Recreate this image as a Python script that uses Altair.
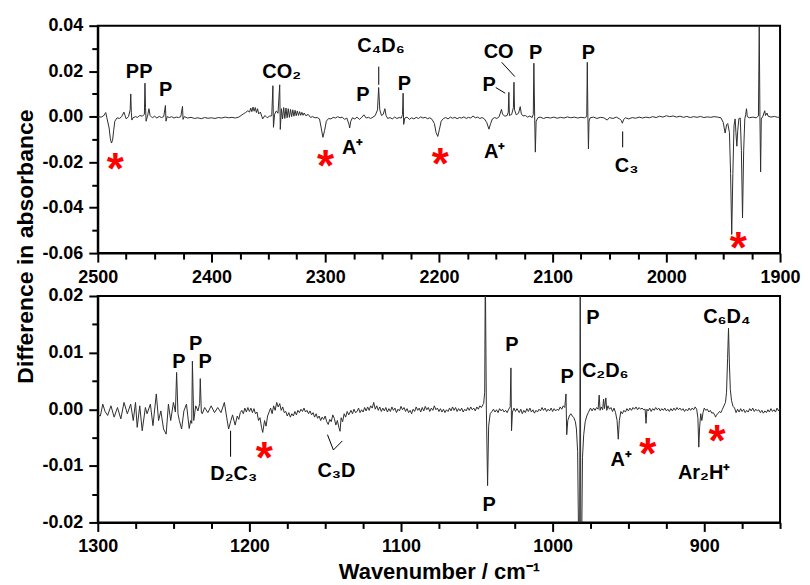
import altair as alt
import pandas as pd

FONT = "Liberation Sans"

# ---------------- data: upper panel (2500-1900 cm-1) ----------------
top_spectrum = [
    (2500, 0.0000), (2497, -0.0002), (2495, 0.0003), (2493, 0.0018), (2492, -0.0005),
    (2490, -0.0050), (2489, -0.0095), (2488, -0.0116), (2487, -0.0105), (2486, -0.0060),
    (2485, -0.0020), (2483, -0.0005), (2481, -0.0008), (2479, 0.0000), (2477, 0.0020),
    (2476, 0.0005), (2475, -0.0010), (2473, 0.0000), (2471.5, 0.0030), (2471, 0.0100),
    (2470.5, 0.0020), (2470, -0.0015), (2469, -0.0005), (2467, 0.0000), (2465, -0.0003),
    (2463, 0.0005), (2461, 0.0002), (2459, 0.0010), (2458.5, 0.0147), (2458, 0.0040),
    (2457.5, -0.0020), (2456, 0.0008), (2455, 0.0035), (2454, 0.0005), (2452, -0.0005),
    (2450, 0.0002), (2448, -0.0006), (2446, 0.0001), (2444, -0.0004), (2442, 0.0000),
    (2440.5, 0.0049), (2440, -0.0020), (2439, 0.0000), (2437, -0.0004), (2435, 0.0000),
    (2433, -0.0006), (2431, -0.0002), (2429, -0.0004), (2427, 0.0000), (2425.5, 0.0045),
    (2425, -0.0012), (2424, 0.0000), (2421, -0.0006), (2418, -0.0003), (2415, -0.0008),
    (2412, -0.0005), (2409, -0.0009), (2406, -0.0004), (2403, -0.0007), (2400, -0.0005),
    (2397, -0.0008), (2394, -0.0004), (2391, -0.0006), (2388, -0.0002), (2385, -0.0005),
    (2382, -0.0003), (2379, -0.0006), (2376, -0.0002), (2374, 0.0005), (2372, 0.0012),
    (2370, 0.0018), (2368, 0.0026), (2366.5, 0.0020), (2365.5, 0.0038), (2364.5, 0.0022),
    (2363.5, 0.0042), (2362.5, 0.0024), (2361.5, 0.0040), (2360.5, 0.0018), (2359.5, 0.0035),
    (2358.5, 0.0012), (2357, 0.0020), (2355, -0.0010), (2353, 0.0005), (2351, -0.0005),
    (2349, 0.0002), (2347, 0.0004), (2346, 0.0136), (2345.5, -0.0047), (2344.5, 0.0010),
    (2343, 0.0025), (2341.5, 0.0015), (2340, 0.0140), (2339.5, -0.0056), (2338.5, 0.0035),
    (2337.5, -0.0010), (2336.5, 0.0040), (2335.5, -0.0008), (2334.5, 0.0038), (2333.5, -0.0005),
    (2332.5, 0.0035), (2331.5, -0.0003), (2330.5, 0.0032), (2329.5, 0.0000), (2328.5, 0.0030),
    (2327.5, 0.0002), (2326.5, 0.0028), (2325.5, 0.0004), (2324.5, 0.0025), (2323.5, 0.0005),
    (2322.5, 0.0022), (2321.5, 0.0006), (2320.5, 0.0019), (2319.5, 0.0006), (2318.5, 0.0016),
    (2317, 0.0004), (2315, 0.0010), (2313, -0.0003), (2311, 0.0000), (2309, -0.0005),
    (2307, -0.0004), (2305, -0.0010), (2303.5, -0.0050), (2302, -0.0091), (2300.5, -0.0060),
    (2299, -0.0020), (2297, -0.0008), (2295, -0.0010), (2293, -0.0003), (2291, -0.0006),
    (2289, 0.0000), (2287, -0.0005), (2285, -0.0002), (2283, -0.0012), (2281, -0.0006),
    (2279, -0.0035), (2278.5, -0.0050), (2277.5, -0.0020), (2276, -0.0005), (2274, -0.0010),
    (2272, -0.0002), (2270, -0.0012), (2268, -0.0004), (2266, 0.0008), (2264, -0.0006),
    (2262, -0.0003), (2260, -0.0008), (2258, -0.0002), (2256, 0.0005), (2254, 0.0030),
    (2253, 0.0128), (2252, 0.0030), (2250.5, 0.0005), (2249, 0.0010), (2247.5, 0.0035),
    (2246.5, 0.0005), (2245, -0.0008), (2243, -0.0004), (2241, -0.0010), (2239, -0.0002),
    (2237, -0.0008), (2235, -0.0004), (2233, -0.0006), (2232, 0.0010), (2231.5, 0.0103),
    (2231, -0.0034), (2230, -0.0006), (2228, -0.0002), (2226, -0.0012), (2224, -0.0005),
    (2222, -0.0010), (2220, -0.0003), (2218, -0.0008), (2216, -0.0001), (2214, -0.0006),
    (2212, -0.0003), (2210, -0.0009), (2208, -0.0005), (2206, -0.0012), (2204, -0.0030),
    (2202.5, -0.0070), (2201, -0.0087), (2199.5, -0.0055), (2198, -0.0020), (2196, -0.0008),
    (2194, -0.0004), (2192, -0.0010), (2190, -0.0002), (2188, -0.0007), (2186, -0.0003),
    (2184, -0.0009), (2182, -0.0004), (2180, -0.0006), (2178, -0.0001), (2176, -0.0008),
    (2174, -0.0003), (2172, -0.0006), (2170, 0.0003), (2168, -0.0005), (2166, -0.0002),
    (2164, -0.0008), (2162, -0.0004), (2160, -0.0010), (2158, -0.0025), (2156, -0.0055),
    (2154.5, -0.0030), (2153, -0.0010), (2151, -0.0004), (2149, -0.0008), (2147, 0.0000),
    (2145, 0.0032), (2144, 0.0010), (2142, 0.0002), (2140, 0.0005), (2139, 0.0020),
    (2138.5, 0.0107), (2138, 0.0005), (2136, 0.0010), (2134.5, 0.0040), (2134, 0.0151),
    (2133.5, 0.0030), (2132, 0.0008), (2130, 0.0015), (2128.5, 0.0044), (2127.5, 0.0012),
    (2126, 0.0003), (2124, 0.0005), (2122, -0.0002), (2120, 0.0003), (2118, -0.0004),
    (2117, 0.0010), (2116.5, 0.0235), (2115.8, 0.0000), (2115.2, -0.0156), (2114.5, -0.0020),
    (2113, -0.0005), (2111, -0.0002), (2108, -0.0008), (2105, -0.0003), (2102, -0.0006),
    (2099, -0.0002), (2096, -0.0007), (2093, -0.0003), (2090, -0.0006), (2087, -0.0001),
    (2084, -0.0005), (2081, -0.0002), (2078, -0.0006), (2075, -0.0003), (2072, -0.0005),
    (2070, 0.0000), (2069.5, 0.0239), (2069, 0.0000), (2068.5, -0.0142), (2068, -0.0020),
    (2067, -0.0005), (2064, -0.0002), (2061, -0.0008), (2058, -0.0003), (2055, -0.0005),
    (2052, -0.0015), (2050, -0.0004), (2047, -0.0008), (2044, -0.0002), (2041, -0.0010),
    (2039.5, -0.0018), (2038.7, -0.0029), (2037.5, -0.0012), (2036, -0.0005), (2033, -0.0010),
    (2030, -0.0004), (2027, -0.0007), (2024, -0.0002), (2021, -0.0006), (2018, -0.0002),
    (2015, -0.0005), (2012, 0.0000), (2009, -0.0004), (2006, 0.0002), (2003, -0.0002),
    (2000, 0.0004), (1997, 0.0000), (1994, 0.0003), (1991, -0.0002), (1988, 0.0002),
    (1985, -0.0003), (1982, 0.0001), (1979, -0.0004), (1976, 0.0000), (1973, -0.0003),
    (1970, 0.0001), (1967, -0.0004), (1964, -0.0001), (1961, -0.0003), (1958, 0.0000),
    (1955, -0.0002), (1952, -0.0005), (1950, -0.0025), (1948.3, -0.0072), (1947, -0.0035),
    (1946, -0.0030), (1944.5, -0.0070), (1943.5, -0.0250), (1942.5, -0.0518), (1941.5, -0.0250),
    (1940.5, -0.0040), (1939.5, -0.0010), (1938.8, -0.0070), (1938, -0.0130), (1937.2, -0.0060),
    (1936.2, -0.0008), (1935, -0.0006), (1934, -0.0150), (1933, -0.0445), (1932, -0.0150),
    (1931, -0.0010), (1930.2, 0.0010), (1929.5, 0.0035), (1928.8, 0.0000), (1927, -0.0005),
    (1924, -0.0002), (1921, -0.0005), (1919, 0.0003), (1918.3, 0.0400), (1917.7, 0.0000),
    (1917.1, -0.0243), (1916.5, -0.0010), (1915, 0.0003), (1913.5, 0.0026), (1912.8, 0.0005),
    (1911.5, 0.0016), (1910.5, 0.0002), (1908, -0.0002), (1905, 0.0001), (1902, -0.0003),
    (1900, -0.0001),
]

top_labels = [
    ("PP", 2463.6, 0.0172), ("P", 2440.2, 0.0089), ("CO₂", 2338.3, 0.0168),
    ("C₄D₆", 2250.9, 0.0283), ("P", 2266.8, 0.0071), ("P", 2230.3, 0.0118),
    ("A⁺", 2275.9, -0.0164), ("A⁺", 2151.0, -0.0182), ("P", 2155.9, 0.0111),
    ("CO", 2147.5, 0.0260), ("P", 2115.0, 0.0254), ("P", 2068.6, 0.0255),
    ("C₃", 2035.0, -0.0243),
]
top_leaders = [
    (2252.9, 0.0220, 2252.9, 0.0140), (2150.0, 0.0128, 2141.7, 0.0103),
    (2144.8, 0.0239, 2133.2, 0.0176), (2038.4, -0.0065, 2038.4, -0.0135),
]
top_stars = [(2484.7, -0.0192), (2299.7, -0.0178), (2198.9, -0.0170), (1936.7, -0.0540)]

top_x_major = [2500, 2400, 2300, 2200, 2100, 2000, 1900]
top_x_minor = [2475, 2450, 2425, 2375, 2350, 2325, 2275, 2250, 2225, 2175, 2150, 2125,
               2075, 2050, 2025, 1975, 1950, 1925]
top_y_major = [-0.06, -0.04, -0.02, 0.0, 0.02, 0.04]
top_y_minor = [-0.05, -0.03, -0.01, 0.01, 0.03]

# ---------------- data: lower panel (1300-850 cm-1) ----------------
bottom_spectrum = [
    (1300.0, -0.0010), (1298.3, -0.0012), (1296.7, 0.0009), (1295.2, -0.0004), (1293.5, -0.0011),
    (1291.3, 0.0006), (1289.2, -0.0014), (1287.0, 0.0003), (1284.8, -0.0017), (1282.7, 0.0012),
    (1280.5, -0.0008), (1278.3, 0.0009), (1276.6, -0.0020), (1275.1, 0.0012), (1274.0, -0.0032),
    (1272.3, 0.0006), (1270.7, -0.0038), (1268.6, 0.0003), (1267.5, -0.0008), (1265.3, 0.0009),
    (1263.6, -0.0029), (1261.4, 0.0027), (1259.9, -0.0020), (1258.4, -0.0003), (1256.6, -0.0035),
    (1254.9, -0.0044), (1253.4, 0.0009), (1251.9, -0.0020), (1250.1, 0.0012), (1248.8, -0.0005),
    (1248.0, 0.0065), (1247.1, -0.0008), (1246.2, -0.0020), (1244.7, -0.0035), (1243.2, -0.0003),
    (1241.5, 0.0009), (1239.7, -0.0034), (1238.7, -0.0020), (1238.0, -0.0025), (1237.6, 0.0085),
    (1236.7, -0.0020), (1235.4, 0.0006), (1233.9, -0.0003), (1232.8, 0.0010), (1232.4, 0.0054),
    (1231.7, -0.0005), (1231.1, -0.0008), (1229.5, 0.0003), (1227.4, -0.0006), (1225.2, 0.0006),
    (1223.0, -0.0006), (1220.9, 0.0003), (1218.7, -0.0006), (1216.5, 0.0012), (1215.0, -0.0014),
    (1213.7, -0.0035), (1212.2, -0.0020), (1211.1, -0.0010), (1209.4, -0.0028), (1208, -0.0012),
    (1207, -0.0018), (1206, -0.0006), (1205, -0.0002), (1204, -0.0008), (1203, 0.0002),
    (1202, -0.0005), (1201, 0.0003), (1200, -0.0004), (1199, 0.0002), (1198, -0.0006),
    (1197, 0.0001), (1196, -0.0008), (1195, -0.0005), (1194, -0.0020), (1193, -0.0015),
    (1192, -0.0032), (1191.2, -0.0041), (1190, -0.0020), (1189, -0.0030), (1188, -0.0012),
    (1187, -0.0005), (1186, 0.0002), (1185, -0.0008), (1184, 0.0006), (1183, -0.0002),
    (1182, 0.0012), (1181, 0.0004), (1180, 0.0010), (1179, -0.0002), (1178, 0.0004),
    (1177, -0.0006), (1176, -0.0004), (1175, -0.0012), (1174, -0.0006), (1173, -0.0014),
    (1172, -0.0008), (1171, -0.0012), (1170, -0.0004), (1169, -0.0010), (1168, -0.0002),
    (1167, -0.0006), (1166, 0.0000), (1165, -0.0004), (1164, 0.0002), (1163, -0.0005),
    (1162, -0.0002), (1161, -0.0008), (1160, -0.0003), (1159, -0.0010), (1158, -0.0006),
    (1157, -0.0014), (1156, -0.0008), (1155, -0.0016), (1154, -0.0012), (1153, -0.0020),
    (1152, -0.0014), (1151, -0.0018), (1150, -0.0012), (1149, -0.0022), (1148, -0.0027),
    (1147, -0.0018), (1146, -0.0022), (1145, -0.0010), (1144, -0.0016), (1143, -0.0028),
    (1142, -0.0020), (1141, -0.0032), (1140.2, -0.0039), (1139.5, -0.0015), (1138.5, -0.0022),
    (1137.5, -0.0008), (1136.5, -0.0014), (1135.5, -0.0004), (1134.5, -0.0010), (1133, -0.0002),
    (1132, -0.0008), (1131, 0.0000), (1130, -0.0006), (1129, -0.0004), (1128, 0.0002),
    (1127, -0.0006), (1126, -0.0001), (1125, -0.0005), (1124, 0.0003), (1123, -0.0003),
    (1122, 0.0004), (1121, -0.0002), (1120, 0.0006), (1119, 0.0002), (1118, 0.0012),
    (1117, 0.0000), (1116, 0.0006), (1115, -0.0002), (1114, 0.0004), (1113, -0.0004),
    (1112, 0.0002), (1111, -0.0003), (1110, 0.0003), (1109, -0.0005), (1108, 0.0001),
    (1107, -0.0004), (1106, 0.0004), (1105, -0.0002), (1104, 0.0002), (1103, -0.0006),
    (1102, 0.0000), (1101, -0.0003), (1100, 0.0005), (1099, -0.0001), (1098, 0.0003),
    (1097, -0.0004), (1096, 0.0001), (1095, -0.0006), (1094, -0.0002), (1093, -0.0008),
    (1092, 0.0000), (1091, -0.0004), (1090, 0.0004), (1089, -0.0002), (1088, 0.0002),
    (1087, -0.0005), (1086, 0.0003), (1085, -0.0003), (1084, 0.0005), (1083, -0.0001),
    (1082, 0.0003), (1081, -0.0004), (1080, 0.0002), (1079, -0.0002), (1078, 0.0006),
    (1077, -0.0001), (1076, 0.0002), (1075, -0.0004), (1074, 0.0001), (1073, -0.0005),
    (1072, 0.0000), (1071, -0.0006), (1070, -0.0001), (1069, -0.0004), (1068, 0.0002),
    (1067, -0.0003), (1066, 0.0004), (1065, -0.0002), (1064, 0.0003), (1063, -0.0004),
    (1062, 0.0001), (1061, -0.0003), (1060, 0.0002), (1059, -0.0005), (1058, 0.0000),
    (1057, -0.0003), (1056, 0.0003), (1055, -0.0002), (1054, 0.0004), (1053, -0.0001),
    (1052, 0.0002), (1051, -0.0003), (1050, 0.0004), (1049, 0.0000), (1048, 0.0006),
    (1047, 0.0003), (1046, 0.0008), (1045.5, 0.0010), (1044.8, 0.0030), (1044.4, 0.0250),
    (1043.7, 0.0000), (1042.9, -0.0135), (1042.2, -0.0030), (1041.2, -0.0008), (1040, -0.0004),
    (1039, 0.0000), (1038, -0.0005), (1037, -0.0001), (1036, -0.0006), (1035, 0.0001),
    (1034, -0.0003), (1033, 0.0000), (1032, -0.0005), (1031, -0.0002), (1030, -0.0006),
    (1029, 0.0000), (1028, 0.0004), (1027.5, 0.0073), (1027.1, -0.0038), (1026.5, -0.0005),
    (1025.5, 0.0002), (1024.5, -0.0004), (1023.5, 0.0001), (1022, -0.0006), (1021, 0.0000),
    (1020, -0.0008), (1019, -0.0002), (1018, -0.0006), (1017, 0.0001), (1016, -0.0004),
    (1015, 0.0002), (1014, -0.0005), (1013, -0.0001), (1012, -0.0007), (1011, -0.0002),
    (1010, -0.0005), (1009, 0.0000), (1008, -0.0003), (1007, 0.0003), (1006, -0.0002),
    (1005, 0.0002), (1004, -0.0004), (1003, 0.0000), (1002, -0.0003), (1001, 0.0002),
    (1000, -0.0004), (999, 0.0001), (998, -0.0003), (997, 0.0000), (996, -0.0002),
    (995, 0.0004), (994, 0.0000), (993, 0.0006), (992, 0.0003), (991.2, 0.0027),
    (990.7, -0.0045), (990, -0.0020), (989, -0.0012), (988, -0.0008), (987, -0.0012),
    (986, -0.0015), (985, -0.0022), (984.3, -0.0035), (983.5, -0.0075), (982.8, -0.0250),
    (982.2, -0.0250), (981.8, 0.0250), (981.4, -0.0250), (980.9, -0.0250), (980.3, -0.0085),
    (979.5, -0.0045), (978.5, -0.0022), (977.5, -0.0012), (976.5, -0.0006), (975, 0.0002),
    (974, -0.0003), (973, 0.0002), (972, -0.0002), (971, 0.0003), (970, 0.0000),
    (969.3, 0.0025), (968.7, -0.0002), (968, 0.0004), (967, -0.0001), (966.4, 0.0018),
    (965.8, 0.0001), (964.9, 0.0020), (964.3, -0.0002), (963.5, 0.0006), (962.5, 0.0000),
    (961.5, 0.0003), (960.5, -0.0004), (959.5, 0.0002), (958.5, -0.0006), (957.5, -0.0020),
    (956.7, -0.0053), (956, -0.0020), (955, -0.0004), (954, -0.0008), (953, -0.0002),
    (952, -0.0005), (951, 0.0001), (950, -0.0003), (949, 0.0002), (948, -0.0002),
    (947, 0.0003), (946, 0.0000), (945, 0.0004), (944, -0.0001), (943, 0.0003),
    (942, 0.0000), (941, 0.0002), (940, -0.0001), (939, 0.0000), (938.4, -0.0025),
    (937.8, 0.0000), (937, -0.0003), (936, 0.0002), (935, -0.0004), (934, 0.0001),
    (933, -0.0002), (932, 0.0003), (931, -0.0001), (930, 0.0002), (929, -0.0003),
    (928, 0.0001), (927, -0.0002), (926, 0.0002), (925, -0.0003), (924, 0.0000),
    (923, -0.0004), (922, 0.0001), (921, -0.0003), (920, 0.0002), (919, -0.0002),
    (918, 0.0003), (917, -0.0001), (916, 0.0002), (915, -0.0002), (914, 0.0001),
    (913, -0.0004), (912, 0.0000), (911, -0.0003), (910, 0.0002), (909, -0.0002),
    (908, 0.0002), (907, -0.0001), (906, 0.0004), (905, 0.0000), (904.2, -0.0015),
    (903.6, -0.0067), (903, -0.0030), (902.3, -0.0008), (901.6, -0.0020), (900.8, -0.0006),
    (900, 0.0002), (899, -0.0002), (898, 0.0000), (897, -0.0005), (896, -0.0002),
    (895, -0.0007), (894, -0.0006), (893, -0.0011), (892.5, -0.0014), (892, -0.0010),
    (891, -0.0008), (890, -0.0004), (889, -0.0006), (888, 0.0000), (887, 0.0006),
    (886, 0.0012), (885.3, 0.0030), (884.6, 0.0090), (884, 0.0143), (883.4, 0.0080),
    (882.8, 0.0035), (882, 0.0015), (881, 0.0005), (880, 0.0002), (879, -0.0006),
    (878, 0.0000), (877, -0.0005), (876, 0.0001), (875, -0.0004), (874, 0.0000),
    (873, -0.0006), (872, -0.0002), (871, -0.0005), (870, 0.0001), (869, -0.0003),
    (868, 0.0002), (867, -0.0004), (866, 0.0000), (865, -0.0003), (864, -0.0001),
    (863, -0.0006), (862, -0.0002), (861, -0.0007), (860, -0.0003), (859, -0.0006),
    (858, -0.0001), (857, -0.0005), (856, 0.0001), (855, -0.0004), (854, -0.0001),
    (853, -0.0005), (852, 0.0002), (851, -0.0003), (850, 0.0002),
]

bottom_labels = [
    ("P", 1246.5, 0.0073), ("P", 1235.4, 0.0104), ("P", 1229.1, 0.0073),
    ("D₂C₃", 1210.3, -0.0125), ("C₃D", 1142.6, -0.0120), ("P", 1041.9, -0.0179),
    ("P", 1026.9, 0.0103), ("P", 990.5, 0.0047), ("P", 973.4, 0.0151),
    ("C₂D₆", 965.3, 0.0057), ("A⁺", 954.7, -0.0100), ("Ar₂H⁺", 900.1, -0.0124),
    ("C₆D₄", 885.1, 0.0153),
]
bottom_leaders = [
    (1212.4, -0.0038, 1212.4, -0.0084), (1148.5, -0.0045, 1144.6, -0.0072),
    (1144.6, -0.0072, 1138.7, -0.0056),
]
bottom_stars = [(1190.1, -0.0071), (937.3, -0.0063), (891.6, -0.0041)]

bottom_x_major = [1300, 1200, 1100, 1000, 900]
bottom_x_minor = [1275, 1250, 1225, 1175, 1150, 1125, 1075, 1050, 1025, 975, 950, 925, 875, 850]
bottom_y_major = [-0.02, -0.01, 0.0, 0.01, 0.02]
bottom_y_minor = [-0.015, -0.005, 0.005, 0.015]

Y_LABEL_EXPR = "replace(format(datum.value, '.2f'), '\u2212', '-')"
PLOT_W = 684


def major_x(values, title):
    return alt.Axis(values=values, title=title, format="d", orient="bottom", grid=False,
                    labelFont=FONT, labelFontSize=18, labelFontWeight="bold", labelColor="black",
                    labelPadding=6, labelFlush=False, labelOverlap=False,
                    tickSize=9, tickWidth=2, tickColor="black",
                    domainColor="black", domainWidth=2,
                    titleFont=FONT, titleFontSize=22, titleFontWeight="bold", titleColor="black",
                    titlePadding=6)


def major_y(values, **title_opts):
    return alt.Axis(values=values, labelExpr=Y_LABEL_EXPR, orient="left", grid=False,
                    labelFont=FONT, labelFontSize=18, labelFontWeight="bold", labelColor="black",
                    labelPadding=6, labelFlush=False, labelOverlap=False,
                    tickSize=9, tickWidth=2, tickColor="black",
                    domainColor="black", domainWidth=2,
                    titleFont=FONT, titleFontSize=23, titleFontWeight="bold", titleColor="black",
                    **title_opts)


def minor_axis(values, orient):
    return alt.Axis(values=values, orient=orient, labels=False, domain=False, grid=False,
                    tickSize=6, tickWidth=2, tickColor="black", title="")


def panel(spectrum, labels, leaders, stars, xdom, ydom, xmaj, xmin, ymaj, ymin,
          h, xtitle, ytitle_opts):
    spec_df = pd.DataFrame(spectrum, columns=["wn", "a"])
    lab_df = pd.DataFrame(labels, columns=["text", "wn", "a"])
    lead_df = pd.DataFrame(leaders, columns=["wn", "a", "wn2", "a2"])
    star_df = pd.DataFrame(stars, columns=["wn", "a"])

    xs = alt.Scale(domain=xdom, reverse=True, nice=False, zero=False)
    ys = alt.Scale(domain=ydom, nice=False, zero=False)

    line = alt.Chart(spec_df).mark_line(color="#2e2e2e", strokeWidth=1, clip=True).encode(
        x=alt.X("wn:Q", scale=xs, axis=major_x(xmaj, xtitle)),
        y=alt.Y("a:Q", scale=ys, axis=major_y(ymaj, **ytitle_opts)),
    )
    minor = alt.Chart(star_df).mark_line(strokeOpacity=0, clip=True).encode(
        x=alt.X("wn:Q", scale=xs, axis=minor_axis(xmin, "bottom")),
        y=alt.Y("a:Q", scale=ys, axis=minor_axis(ymin, "left")),
    )
    lead = alt.Chart(lead_df).mark_rule(color="black", strokeWidth=1).encode(
        x=alt.X("wn:Q", scale=xs, axis=None), y=alt.Y("a:Q", scale=ys, axis=None),
        x2="wn2:Q", y2="a2:Q",
    )
    text = alt.Chart(lab_df).mark_text(font=FONT, fontSize=20, fontWeight="bold",
                                       color="black", align="center",
                                       baseline="alphabetic").encode(
        x=alt.X("wn:Q", scale=xs, axis=None), y=alt.Y("a:Q", scale=ys, axis=None),
        text="text:N",
    )
    star = alt.Chart(star_df).mark_text(text="*", font=FONT, fontSize=44, fontWeight="bold",
                                        color="#ff0000", align="center", baseline="middle",
                                        dy=11).encode(
        x=alt.X("wn:Q", scale=xs, axis=None), y=alt.Y("a:Q", scale=ys, axis=None),
    )
    return alt.layer(line, minor, lead, text, star).resolve_axis(
        x="independent", y="independent").properties(width=PLOT_W, height=h)


top = panel(top_spectrum, top_labels, top_leaders, top_stars, [1900, 2500], [-0.06, 0.04],
            top_x_major, top_x_minor, top_y_major, top_y_minor, 228, "",
            dict(title="Difference in absorbance", titleAngle=270, titleAlign="center",
                 titleBaseline="middle", titleX=-72, titleY=221))
bottom = panel(bottom_spectrum, bottom_labels, bottom_leaders, bottom_stars, [850, 1300],
               [-0.02, 0.02], bottom_x_major, bottom_x_minor, bottom_y_major, bottom_y_minor,
               227, "Wavenumber / cm⁻¹", dict(title=""))

chart = alt.vconcat(top, bottom, spacing=43, bounds="flush").properties(
    padding={"left": 6, "top": 7, "right": 0, "bottom": 0}
).configure_view(stroke="black", strokeWidth=2)

chart.save("out.html", embed_options={"renderer": "svg", "actions": False})
